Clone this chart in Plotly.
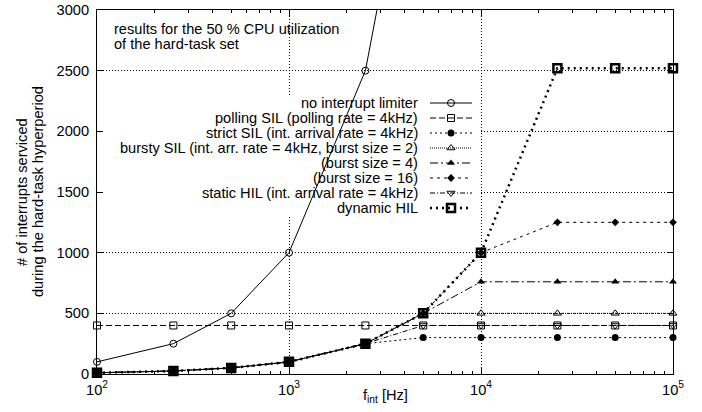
import plotly.graph_objects as go

# ---- data ----
f_int = [100, 250, 500, 1000, 2500, 5000, 10000, 25000, 50000, 100000]
no_limiter = [100, 250, 500, 1000, 2500, 5000, 10000, 25000, 50000, 100000]
polling_sil = [400, 400, 400, 400, 400, 400, 400, 400, 400, 400]
strict_sil = [10, 25, 50, 100, 250, 300, 300, 300, 300, 300]
bursty_2 = [10, 25, 50, 100, 250, 500, 500, 500, 500, 500]
bursty_4 = [10, 25, 50, 100, 250, 500, 760, 760, 760, 760]
bursty_16 = [10, 25, 50, 100, 250, 500, 1000, 1250, 1250, 1250]
static_hil = [10, 25, 50, 100, 250, 400, 400, 400, 400, 400]
dynamic_hil = [10, 25, 50, 100, 250, 500, 1000, 2520, 2520, 2520]

labels = [
    "no interrupt limiter",
    "polling SIL (polling rate = 4kHz)",
    "strict SIL (int. arrival rate = 4kHz)",
    "bursty SIL (int. arr. rate = 4kHz, burst size = 2)",
    "(burst size = 4)",
    "(burst size = 16)",
    "static HIL (int. arrival rate = 4kHz)",
    "dynamic HIL",
]
xtick_vals = [100, 1000, 10000, 100000]
xtick_text = ["10<sup>2</sup>", "10<sup>3</sup>", "10<sup>4</sup>", "10<sup>5</sup>"]
ytick_vals = [0, 500, 1000, 1500, 2000, 2500, 3000]

series = [no_limiter, polling_sil, strict_sil, bursty_2, bursty_4, bursty_16, static_hil, dynamic_hil]
styles = [
    dict(dash="solid", width=1, symbol="circle-open", size=7, mlw=1),
    dict(dash="6px,3px", width=1, symbol="square-open", size=7, mlw=1),
    dict(dash="2px,3px", width=1, symbol="circle", size=7, mlw=0),
    dict(dash="1px,1px", width=1, symbol="triangle-up-open", size=7, mlw=1),
    dict(dash="8px,3px,2px,3px", width=1, symbol="triangle-up", size=7, mlw=0),
    dict(dash="3px,4px", width=1, symbol="diamond", size=6, mlw=0),
    dict(dash="5px,2px,1px,2px", width=1, symbol="triangle-down-open", size=7, mlw=1),
    dict(dash="2px,4px", width=2.5, symbol="square-open", size=8, mlw=2.5),
]

FONT = "Liberation Sans, Arial, Helvetica, sans-serif"
FS = 14.6
W, H = 702, 412
ML, MR, MT, MB = 97, 29, 10, 38
PW, PH = W - ML - MR, H - MT - MB


def px(xp):
    return (xp - ML) / PW


def py(yp):
    return (MT + PH - yp) / PH


fig = go.Figure()
for ys, st, name in zip(series, styles, labels):
    fig.add_trace(go.Scatter(
        x=f_int, y=ys, mode="lines+markers", name=name, showlegend=False,
        line=dict(color="black", width=st["width"], dash=st["dash"]),
        marker=dict(symbol=st["symbol"], size=st["size"], color="black",
                    line=dict(color="black", width=st["mlw"])),
        cliponaxis=False,
    ))

# ---- gnuplot-style key: samples on a hidden 0..1 overlay axis ----
row0 = py(103)
dy = 15 / PH
for i, (st, name) in enumerate(zip(styles, labels)):
    yy = row0 - i * dy
    fig.add_trace(go.Scatter(
        x=[px(430), px(472)], y=[yy, yy], xaxis="x2", yaxis="y2", mode="lines",
        showlegend=False, hoverinfo="skip",
        line=dict(color="black", width=st["width"], dash=st["dash"]),
    ))
    fig.add_trace(go.Scatter(
        x=[px(451)], y=[yy], xaxis="x2", yaxis="y2", mode="markers",
        showlegend=False, hoverinfo="skip",
        marker=dict(symbol=st["symbol"], size=st["size"], color="black",
                    line=dict(color="black", width=st["mlw"])),
    ))
    fig.add_annotation(x=px(420), y=yy, xref="paper", yref="paper", text=name,
                       showarrow=False, xanchor="right", yanchor="middle",
                       font=dict(family=FONT, size=FS, color="black"))

# opaque key background, between the grid and the data
fig.add_shape(type="rect", xref="x", yref="y",
              x0=10 ** (2 + 3 * px(100)), x1=10 ** (2 + 3 * px(481)),
              y0=3000 * py(216), y1=3000 * py(95),
              fillcolor="white", line=dict(width=0), layer="between")

fig.add_annotation(x=px(112), y=py(29), xref="paper", yref="paper",
                   text="results for the 50 % CPU utilization", showarrow=False,
                   xanchor="left", yanchor="middle",
                   font=dict(family=FONT, size=FS, color="black"))
fig.add_annotation(x=px(112), y=py(44), xref="paper", yref="paper",
                   text="of the hard-task set", showarrow=False,
                   xanchor="left", yanchor="middle",
                   font=dict(family=FONT, size=FS, color="black"))

# axis titles
fig.add_annotation(x=px(385), y=py(396), xref="paper", yref="paper",
                   text="f<sub>int</sub> [Hz]", showarrow=False,
                   xanchor="center", yanchor="middle",
                   font=dict(family=FONT, size=FS, color="black"))
fig.add_annotation(x=px(22), y=py(192), xref="paper", yref="paper",
                   text="# of interrupts serviced", showarrow=False, textangle=-90,
                   xanchor="center", yanchor="middle",
                   font=dict(family=FONT, size=FS, color="black"))
fig.add_annotation(x=px(38), y=py(192), xref="paper", yref="paper",
                   text="during the hard-task hyperperiod", showarrow=False, textangle=-90,
                   xanchor="center", yanchor="middle",
                   font=dict(family=FONT, size=FS, color="black"))

fig.update_layout(
    width=W, height=H,
    margin=dict(l=ML, r=MR, t=MT, b=MB, autoexpand=False),
    paper_bgcolor="white", plot_bgcolor="white",
    font=dict(family=FONT, size=FS, color="black"),
    showlegend=False,
    xaxis=dict(
        type="log", range=[2, 5], automargin=False,
        tickvals=xtick_vals, ticktext=xtick_text,
        ticks="inside", ticklen=6, tickcolor="black", tickwidth=1,
        minor=dict(ticks="inside", ticklen=3, tickcolor="black", dtick="D1", showgrid=False),
        showline=True, linecolor="black", linewidth=1, mirror="allticks",
        showgrid=True, gridcolor="black", gridwidth=1, griddash="1px,2px",
        zeroline=False, tickfont=dict(size=FS), ticklabelstandoff=2,
    ),
    yaxis=dict(
        range=[0, 3000], tickvals=ytick_vals, automargin=False,
        ticks="inside", ticklen=6, tickcolor="black", tickwidth=1,
        showline=True, linecolor="black", linewidth=1, mirror="allticks",
        showgrid=True, gridcolor="black", gridwidth=1, griddash="1px,2px",
        zeroline=False, tickfont=dict(size=FS), ticklabelstandoff=4,
    ),
    xaxis2=dict(overlaying="x", range=[0, 1], visible=False, fixedrange=True),
    yaxis2=dict(overlaying="y", range=[0, 1], visible=False, fixedrange=True),
)

fig.write_html("out.html")
